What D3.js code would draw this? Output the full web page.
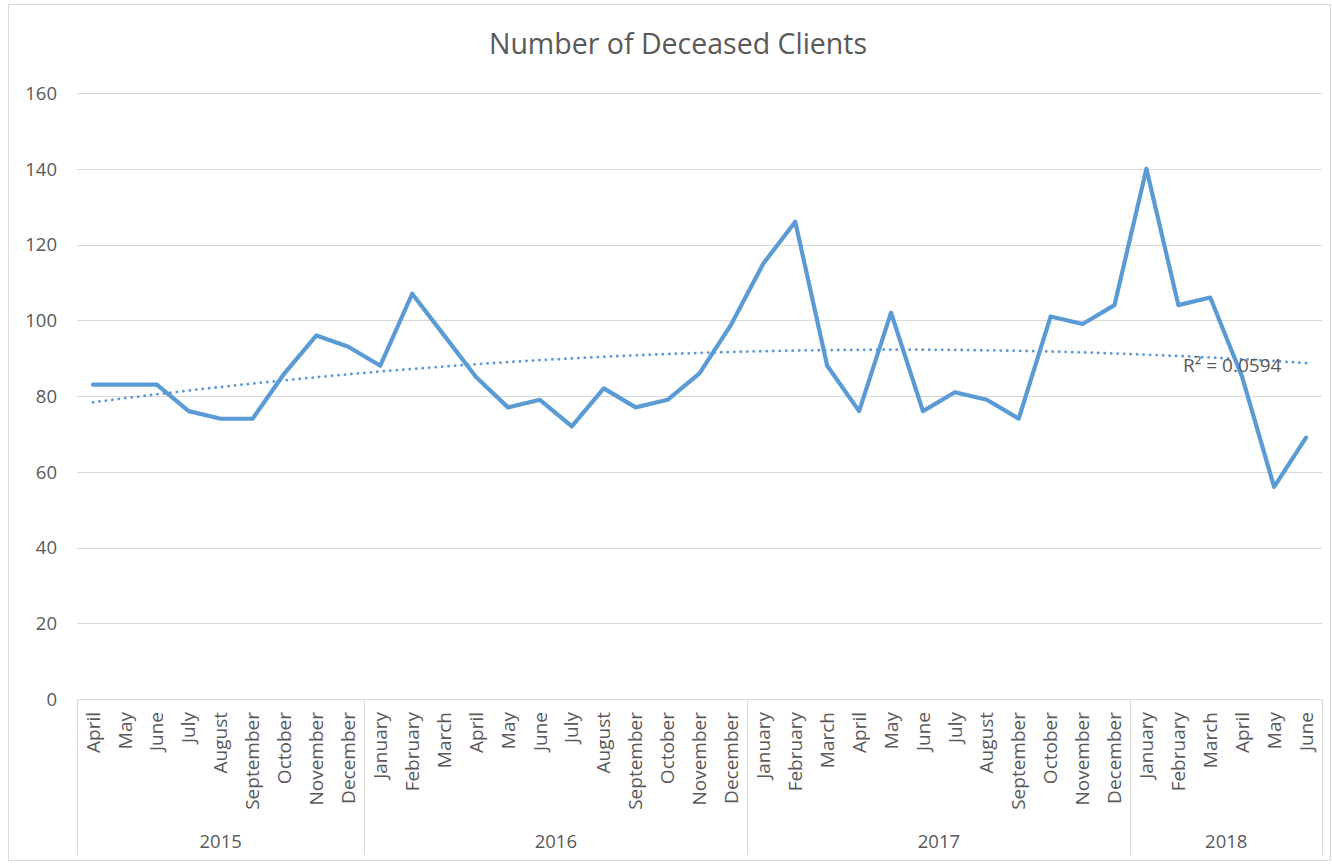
<!DOCTYPE html>
<html>
<head>
<meta charset="utf-8">
<script src="https://cdn.jsdelivr.net/npm/d3@7"></script>
<style>
  html, body { margin: 0; padding: 0; background: #ffffff; }
  svg { display: block; }
  text { font-family: "Open Sans", "Noto Sans", sans-serif; fill: #595959; }
</style>
</head>
<body>
<svg id="chart" width="1332" height="864"></svg>
<script>
// ---- data ----
const title = "Number of Deceased Clients";
const years = ["2015", "2016", "2017", "2018"];
const monthsPerYear = [
  ["April","May","June","July","August","September","October","November","December"],
  ["January","February","March","April","May","June","July","August","September","October","November","December"],
  ["January","February","March","April","May","June","July","August","September","October","November","December"],
  ["January","February","March","April","May","June"]
];
const deceased = [
  83, 83, 83, 76, 74, 74, 86, 96, 93,
  88, 107, 96, 85, 77, 79, 72, 82, 77, 79, 86, 99,
  115, 126, 88, 76, 102, 76, 81, 79, 74, 101, 99, 104,
  140, 104, 106, 85, 56, 69
];
const yTicks = [0, 20, 40, 60, 80, 100, 120, 140, 160];
const r2Label = "R\u00B2 = 0.0594";

(function () {
// ---- build categories ----
const cats = [];
monthsPerYear.forEach((ms, yi) => ms.forEach(m => cats.push({ year: years[yi], month: m, idx: cats.length })));

const svg = d3.select("#chart");
const plotL = 77, plotR = 1322, plotT = 93, plotB = 699;
const FONT = "'Open Sans', 'Noto Sans', sans-serif";

// outer border
svg.append("rect").attr("x", 8.5).attr("y", 4.5).attr("width", 1322).attr("height", 856)
  .attr("fill", "#fff").attr("stroke", "#d9d9d9").attr("stroke-width", 1);

const x = d3.scaleBand().domain(cats.map(c => c.idx)).range([plotL, plotR]).paddingInner(0).paddingOuter(0);
const y = d3.scaleLinear().domain([0, 160]).range([plotB, plotT]);
const cx = i => x(i) + x.bandwidth() / 2;

// title
svg.append("text").attr("x", 678).attr("y", 54).attr("text-anchor", "middle")
  .style("font-size", "28.5px").text(title);

// gridlines
svg.append("g").selectAll("line").data(yTicks.filter(t => t > 0)).join("line")
  .attr("x1", plotL).attr("x2", plotR)
  .attr("y1", d => Math.round(y(d)) + 0.5).attr("y2", d => Math.round(y(d)) + 0.5)
  .attr("stroke", "#d9d9d9").attr("stroke-width", 1);

// y axis labels
const yAxis = d3.axisLeft(y).tickValues(yTicks).tickSize(0).tickPadding(0);
const gy = svg.append("g").attr("transform", `translate(57,0)`).call(yAxis);
gy.select(".domain").remove();
gy.selectAll("text").style("font-size", "18.5px").style("font-family", FONT).attr("fill", "#595959").attr("dy", "0.35em");

// x axis frame
const axisBottom = 855;
svg.append("line").attr("x1", plotL).attr("x2", plotR).attr("y1", plotB + 0.5).attr("y2", plotB + 0.5)
  .attr("stroke", "#d9d9d9");
// year boundaries
const bounds = [0];
let acc = 0;
monthsPerYear.forEach(ms => { acc += ms.length; bounds.push(acc); });
const bx = d => (d === cats.length ? plotR : x(d));
svg.append("g").selectAll("line").data(bounds).join("line")
  .attr("x1", d => Math.round(bx(d)) + 0.5)
  .attr("x2", d => Math.round(bx(d)) + 0.5)
  .attr("y1", plotB).attr("y2", axisBottom)
  .attr("stroke", "#d9d9d9");

// month labels
const xAxis = d3.axisBottom(x).tickSize(0).tickFormat(i => cats[i].month);
const gx = svg.append("g").attr("transform", `translate(0,${plotB})`).call(xAxis);
gx.select(".domain").remove();
gx.selectAll("text")
  .style("font-size", "19px").style("font-family", FONT).attr("fill", "#595959")
  .attr("transform", "rotate(-90)")
  .attr("x", -13).attr("y", 0).attr("dy", "0.35em")
  .attr("text-anchor", "end");

// year labels
svg.append("g").selectAll("text").data(years).join("text")
  .attr("x", (d, i) => (bx(bounds[i]) + bx(bounds[i + 1])) / 2)
  .attr("y", 848).attr("text-anchor", "middle").style("font-size", "18.5px").text(d => d);

// ---- polynomial (order 2) trendline ----
const n = deceased.length;
const xs = deceased.map((_, i) => i + 1);
const S = [0,0,0,0,0], T = [0,0,0];
xs.forEach((xv, i) => {
  for (let k = 0; k < 5; k++) S[k] += Math.pow(xv, k);
  for (let k = 0; k < 3; k++) T[k] += Math.pow(xv, k) * deceased[i];
});
function solve3(A, b) {
  const M = A.map((r, i) => [...r, b[i]]);
  for (let c = 0; c < 3; c++) {
    let p = c;
    for (let r = c + 1; r < 3; r++) if (Math.abs(M[r][c]) > Math.abs(M[p][c])) p = r;
    [M[c], M[p]] = [M[p], M[c]];
    for (let r = 0; r < 3; r++) {
      if (r === c) continue;
      const f = M[r][c] / M[c][c];
      for (let k = c; k < 4; k++) M[r][k] -= f * M[c][k];
    }
  }
  return M.map((r, i) => r[3] / r[i]);
}
const coef = solve3([[S[0],S[1],S[2]],[S[1],S[2],S[3]],[S[2],S[3],S[4]]], T);
const fit = xv => coef[0] + coef[1] * xv + coef[2] * xv * xv;
const trendPts = d3.range(0, n - 1 + 0.001, 0.25).map(t => [cx(0) + t * x.step(), y(fit(t + 1))]);

svg.append("path").datum(trendPts)
  .attr("d", d3.line())
  .attr("fill", "none").attr("stroke", "#5b9bd5").attr("stroke-width", 2.8)
  .attr("stroke-linecap", "round").attr("stroke-dasharray", "0.1 6.4");

// main line
svg.append("path").datum(deceased)
  .attr("d", d3.line().x((d, i) => cx(i)).y(d => y(d)))
  .attr("fill", "none").attr("stroke", "#5b9bd5").attr("stroke-width", 4.2)
  .attr("stroke-linejoin", "round").attr("stroke-linecap", "round");

// R² label
svg.append("text").attr("x", 1183).attr("y", 372).style("font-size", "19px").text(r2Label);
})();
</script>
</body>
</html>
